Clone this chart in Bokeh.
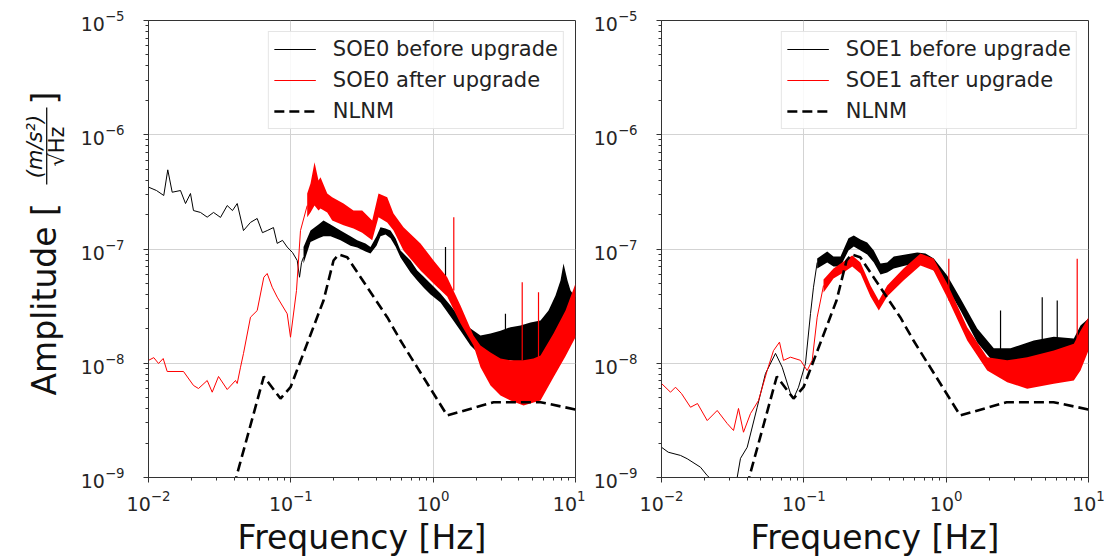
import math
from bokeh.plotting import figure
from bokeh.layouts import row
from bokeh.models import (Range1d, FixedTicker, LogTickFormatter, Legend, LegendItem)
from bokeh.core.properties import value
from bokeh.embed import file_html
from bokeh.resources import INLINE

FONT = "DejaVu Sans"

# ---------------- axis ticks ----------------
freq_ticks = [0.01, 0.1, 1, 10]
amp_ticks = [1e-9, 1e-8, 1e-7, 1e-6, 1e-5]
freq_minor = [m * 10.0 ** e for e in (-2, -1, 0) for m in range(2, 10)]
amp_minor = [m * 10.0 ** e for e in (-9, -8, -7, -6) for m in range(2, 10)]

# ---------------- NLNM ----------------
nlnm_f = [0.0377, 0.042, 0.0646, 0.0846, 0.0995, 0.1697, 0.1995, 0.2162, 0.2489,
          0.383, 0.4755, 0.5896, 1.255, 2.655, 5.678, 10.0]
nlnm_a = [6.29e-10, 1.08e-9, 7.66e-9, 4.91e-9, 6.17e-9, 3.54e-8, 7.93e-8, 8.95e-8, 8.48e-8,
          3.79e-8, 2.53e-8, 1.58e-8, 3.49e-9, 4.56e-9, 4.56e-9, 3.94e-9]

# ---------------- SOE0 before upgrade ----------------
soe0_before_f = [0.01, 0.01138, 0.0128, 0.01366, 0.01467, 0.01678, 0.0182, 0.01972, 0.0207, 0.02318,
                 0.02584, 0.02864, 0.03206, 0.03573, 0.0389, 0.042, 0.04648, 0.0521, 0.058, 0.0632,
                 0.0682, 0.0755, 0.0802, 0.0874, 0.0943, 0.1028, 0.1109, 0.1151, 0.1189, 0.1228]
soe0_before_a = [3.48e-7, 3.25e-7, 2.94e-7, 4.93e-7, 3.14e-7, 3.25e-7, 2.50e-7, 3.06e-7, 2.17e-7, 2.09e-7,
                 1.90e-7, 2.09e-7, 1.89e-7, 2.40e-7, 2.17e-7, 2.50e-7, 1.45e-7, 1.71e-7, 1.85e-7, 1.39e-7,
                 1.45e-7, 1.54e-7, 1.12e-7, 1.19e-7, 1.04e-7, 9.31e-8, 7.93e-8, 5.66e-8, 7.62e-8, 8.48e-8]
soe0_before_band_f = [0.1228, 0.1375, 0.1565, 0.1697, 0.1900, 0.2234, 0.2626, 0.2926, 0.3346, 0.3628,
                      0.4000, 0.4266, 0.4626, 0.5016, 0.5438, 0.5896, 0.6932, 0.7727, 0.8552, 0.9579,
                      1.126, 1.324, 1.556, 1.829, 2.150, 2.529, 2.972, 3.494, 4.108, 4.830,
                      5.678, 6.464, 7.236, 7.846, 8.236, 8.788, 9.226, 10.0]
soe0_before_band_hi = [1.04e-7, 1.45e-7, 1.64e-7, 1.78e-7, 1.64e-7, 1.45e-7, 1.29e-7, 1.19e-7, 1.12e-7, 1.04e-7,
                       1.29e-7, 1.55e-7, 1.51e-7, 1.45e-7, 1.24e-7, 9.70e-8, 7.93e-8, 6.48e-8, 5.75e-8, 4.99e-8,
                       4.08e-8, 3.20e-8, 2.46e-8, 2.01e-8, 1.75e-8, 1.82e-8, 1.93e-8, 2.07e-8, 2.14e-8, 2.27e-8,
                       2.37e-8, 2.89e-8, 3.92e-8, 5.30e-8, 7.47e-8, 5.30e-8, 4.33e-8, 3.79e-8]
soe0_before_band_lo = [7.47e-8, 1.15e-7, 1.24e-7, 1.29e-7, 1.29e-7, 1.19e-7, 1.07e-7, 1.03e-7, 9.51e-8, 9.13e-8,
                       1.07e-7, 1.29e-7, 1.34e-7, 1.24e-7, 1.05e-7, 8.43e-8, 6.23e-8, 5.30e-8, 4.60e-8, 4.00e-8,
                       3.40e-8, 2.57e-8, 1.93e-8, 1.43e-8, 1.17e-8, 1.06e-8, 1.06e-8, 1.06e-8, 1.015e-8, 1.015e-8,
                       1.10e-8, 1.29e-8, 1.43e-8, 1.75e-8, 1.93e-8, 1.93e-8, 1.75e-8, 1.75e-8]
soe0_before_spike_f = [1.221, 3.22]
soe0_before_spike_lo = [4.33e-8, 1.43e-8]
soe0_before_spike_hi = [1.04e-7, 2.71e-8]

# ---------------- SOE0 after upgrade ----------------
soe0_after_f = [0.01, 0.01089, 0.01176, 0.01268, 0.01353, 0.01762, 0.02071, 0.02245, 0.02585, 0.02803,
                0.03104, 0.03573, 0.04086, 0.0420, 0.04431, 0.0465, 0.05207, 0.05803, 0.06459, 0.06823,
                0.07398, 0.08022, 0.0943, 0.09947, 0.1096, 0.1169, 0.1303]
soe0_after_a = [1.06e-8, 1.12e-8, 9.95e-9, 1.10e-8, 8.47e-9, 8.47e-9, 6.39e-9, 6.01e-9, 7.06e-9, 5.58e-9,
                7.66e-9, 5.89e-9, 7.06e-9, 6.65e-9, 9.23e-9, 1.22e-8, 2.53e-8, 2.89e-8, 5.66e-8, 6.10e-8,
                4.63e-8, 3.79e-8, 2.71e-8, 1.69e-8, 4.33e-8, 1.45e-7, 2.40e-7]
soe0_after_band_f = [0.1303, 0.1375, 0.1467, 0.1565, 0.1616, 0.1802, 0.1953, 0.2345, 0.2756, 0.3172,
                     0.3730, 0.4130, 0.4755, 0.5265, 0.6189, 0.8147, 1.006, 1.255, 1.556, 1.920,
                     2.150, 2.529, 2.972, 3.494, 4.313, 5.070, 5.678, 7.006, 8.509, 10.0]
soe0_after_band_hi = [3.06e-7, 3.74e-7, 5.75e-7, 3.98e-7, 4.25e-7, 3.06e-7, 2.84e-7, 2.50e-7, 2.17e-7, 2.17e-7,
                      1.78e-7, 3.06e-7, 2.84e-7, 2.05e-7, 1.55e-7, 1.12e-7, 7.93e-8, 5.66e-8, 3.20e-8, 1.75e-8,
                      1.43e-8, 1.24e-8, 1.10e-8, 1.06e-8, 1.06e-8, 1.10e-8, 1.17e-8, 1.82e-8, 2.89e-8, 4.99e-8]
soe0_after_band_lo = [1.90e-7, 2.09e-7, 2.40e-7, 2.17e-7, 2.26e-7, 2.09e-7, 1.78e-7, 1.61e-7, 1.51e-7, 1.39e-7,
                      1.19e-7, 1.90e-7, 1.71e-7, 1.45e-7, 9.70e-8, 6.48e-8, 4.99e-8, 3.84e-8, 2.23e-8, 1.43e-8,
                      9.23e-9, 6.39e-9, 5.22e-9, 4.72e-9, 4.27e-9, 4.53e-9, 4.72e-9, 7.55e-9, 1.15e-8, 1.69e-8]
soe0_after_spike_f = [1.396, 4.223, 5.497]
soe0_after_spike_lo = [4.33e-8, 1.06e-8, 1.06e-8]
soe0_after_spike_hi = [1.90e-7, 5.12e-8, 4.19e-8]

# ---------------- SOE1 before upgrade ----------------
soe1_before_f = [0.01, 0.01115, 0.0136, 0.01515, 0.01879, 0.02095, 0.02727, 0.03404, 0.03589, 0.04001,
                 0.04703, 0.05378, 0.06324, 0.07047, 0.08059, 0.08462, 0.09175, 0.1027, 0.1114, 0.1169,
                 0.1241]
soe1_before_a = [1.84e-9, 1.665e-9, 1.56e-9, 1.46e-9, 1.23e-9, 1.04e-9, 7.69e-10, 1.006e-9, 1.47e-9, 1.84e-9,
                 4.12e-9, 8.13e-9, 1.22e-8, 9.23e-9, 5.43e-9, 4.91e-9, 6.17e-9, 9.95e-9, 2.72e-8, 4.63e-8,
                 7.62e-8]
soe1_before_band_f = [0.1241, 0.1460, 0.1616, 0.1810, 0.2060, 0.2245, 0.2501, 0.2788, 0.3101, 0.3457,
                      0.3852, 0.4286, 0.5181, 0.6260, 0.7157, 0.8187, 1.017, 1.261, 1.653, 2.161,
                      2.831, 4.128, 5.705, 7.885, 8.788, 10.0]
soe1_before_band_hi = [8.26e-8, 9.51e-8, 8.60e-8, 8.60e-8, 1.24e-7, 1.31e-7, 1.21e-7, 1.14e-7, 9.70e-8, 7.47e-8,
                       7.62e-8, 8.60e-8, 8.95e-8, 9.31e-8, 9.13e-8, 8.26e-8, 5.86e-8, 3.69e-8, 2.01e-8, 1.35e-8,
                       1.35e-8, 1.58e-8, 1.71e-8, 1.65e-8, 2.14e-8, 2.46e-8]
soe1_before_band_lo = [6.75e-8, 7.62e-8, 7.03e-8, 7.03e-8, 9.70e-8, 1.05e-7, 9.70e-8, 8.95e-8, 7.62e-8, 5.98e-8,
                       6.23e-8, 6.75e-8, 7.17e-8, 7.47e-8, 7.31e-8, 6.48e-8, 4.60e-8, 2.89e-8, 1.52e-8, 1.015e-8,
                       9.56e-9, 1.06e-8, 1.17e-8, 1.10e-8, 1.17e-8, 1.29e-8]
soe1_before_spike_f = [2.41, 4.73, 6.03]
soe1_before_spike_lo = [1.17e-8, 1.29e-8, 1.29e-8]
soe1_before_spike_hi = [2.89e-8, 3.79e-8, 3.54e-8]

# ---------------- SOE1 after upgrade ----------------
soe1_after_f = [0.01, 0.01157, 0.01254, 0.01382, 0.01599, 0.0179, 0.02095, 0.02462, 0.02894, 0.03206,
                0.03475, 0.03768, 0.0422, 0.04803, 0.05527, 0.06122, 0.06745, 0.07197, 0.08059, 0.09476,
                0.1056, 0.1145, 0.1241, 0.1375]
soe1_after_a = [6.65e-9, 5.58e-9, 6.17e-9, 5.43e-9, 4.12e-9, 4.44e-9, 3.15e-9, 3.86e-9, 2.97e-9, 2.58e-9,
                4.02e-9, 2.49e-9, 3.63e-9, 4.72e-9, 8.64e-9, 1.29e-8, 1.53e-8, 1.06e-8, 1.13e-8, 1.06e-8,
                8.64e-9, 1.06e-8, 2.53e-8, 4.79e-8]
soe1_after_band_f = [0.1375, 0.1616, 0.1900, 0.2187, 0.2501, 0.2941, 0.3363, 0.3852, 0.5016, 0.6602,
                     0.8147, 1.017, 1.406, 1.942, 2.685, 3.710, 5.705, 7.885, 8.788, 10.0]
soe1_after_band_hi = [5.41e-8, 6.75e-8, 7.77e-8, 8.77e-8, 7.62e-8, 4.79e-8, 3.54e-8, 4.79e-8, 6.75e-8, 9.13e-8,
                      8.26e-8, 4.99e-8, 2.07e-8, 1.13e-8, 1.06e-8, 1.13e-8, 1.29e-8, 1.48e-8, 1.93e-8, 2.53e-8]
soe1_after_band_lo = [4.16e-8, 5.52e-8, 6.23e-8, 7.03e-8, 6.10e-8, 3.84e-8, 2.89e-8, 3.84e-8, 5.30e-8, 7.17e-8,
                      6.48e-8, 3.76e-8, 1.58e-8, 8.64e-9, 6.83e-9, 5.98e-9, 6.61e-9, 7.06e-9, 8.64e-9, 1.29e-8]
soe1_after_spike_f = [1.044, 8.33]
soe1_after_spike_lo = [3.54e-8, 1.29e-8]
soe1_after_spike_hi = [8.21e-8, 8.21e-8]

# ---------------- y-axis title pieces ----------------
ylabel_main = "Amplitude ["
ylabel_num = "(m/s²)"
ylabel_den = "√Hz"
ylabel_close = "]"


def panel(width, border_left, border_right, names,
          b_line, b_band, b_spk, a_line, a_band, a_spk):
    p = figure(width=width, height=560, x_axis_type="log", y_axis_type="log",
               x_range=Range1d(0.01, 10), y_range=Range1d(1e-9, 1e-5),
               output_backend="svg", toolbar_location=None,
               min_border_left=border_left, min_border_right=border_right,
               min_border_top=20, min_border_bottom=83)
    p.background_fill_color = "white"
    p.border_fill_color = "white"
    p.outline_line_color = "#333333"
    p.outline_line_width = 1

    xt = FixedTicker(ticks=freq_ticks, minor_ticks=freq_minor)
    yt = FixedTicker(ticks=amp_ticks, minor_ticks=amp_minor)
    p.xaxis.ticker = xt
    p.yaxis.ticker = yt
    p.xgrid.ticker = xt
    p.ygrid.ticker = yt
    p.xaxis.formatter = LogTickFormatter()
    p.yaxis.formatter = LogTickFormatter()
    for g in (p.xgrid, p.ygrid):
        g.grid_line_color = "#d3d3d3"
        g.grid_line_width = 1
    for ax in (p.xaxis, p.yaxis):
        ax.major_label_text_font = FONT
        ax.major_label_text_font_size = "19px"
        ax.major_label_text_color = "#262626"
        ax.axis_line_color = "#333333"
        ax.major_tick_line_color = "#333333"
        ax.minor_tick_line_color = "#333333"
        ax.major_tick_out = 5
        ax.major_tick_in = 0
        ax.minor_tick_out = 3
        ax.minor_tick_in = 0
    p.xaxis.major_label_standoff = 7
    p.yaxis.major_label_standoff = 19
    p.xaxis.axis_label = "Frequency [Hz]"
    p.xaxis.axis_label_text_font = FONT
    p.xaxis.axis_label_text_font_size = "33px"
    p.xaxis.axis_label_text_font_style = "normal"
    p.xaxis.axis_label_text_color = "#111111"
    p.xaxis.axis_label_standoff = 4

    rb = p.line(b_line[0], b_line[1], line_color="black", line_width=1)
    p.varea(x=b_band[0], y1=b_band[1], y2=b_band[2], fill_color="black")
    p.segment(x0=b_spk[0], y0=b_spk[1], x1=b_spk[0], y1=b_spk[2],
              line_color="black", line_width=1.2)
    ra = p.line(a_line[0], a_line[1], line_color="red", line_width=1)
    p.varea(x=a_band[0], y1=a_band[1], y2=a_band[2], fill_color="red")
    p.segment(x0=a_spk[0], y0=a_spk[1], x1=a_spk[0], y1=a_spk[2],
              line_color="red", line_width=1.2)
    rn = p.line(nlnm_f, nlnm_a, line_color="black", line_width=2.6, line_dash="10 5")

    legend = Legend(items=[LegendItem(label=names[0], renderers=[rb]),
                           LegendItem(label=names[1], renderers=[ra]),
                           LegendItem(label="NLNM", renderers=[rn])],
                    location="top_right")
    legend.label_text_font = FONT
    legend.label_text_font_size = "21px"
    legend.label_text_color = "#222222"
    legend.glyph_width = 42
    legend.glyph_height = 24
    legend.label_height = 24
    legend.label_standoff = 17
    legend.padding = 5
    legend.spacing = 7
    legend.margin = 11
    legend.border_line_color = "#cccccc"
    legend.border_line_width = 1
    legend.background_fill_alpha = 0.85
    p.add_layout(legend)
    return p


# narrow strip at the far left that carries the rotated y-axis title.
# Its frame is aligned with the panels' frames (canvas y 20..477), so the
# ranges below make one data unit equal one canvas pixel (y counted from the bottom).
TW = 72
title_fig = figure(width=TW, height=560, x_range=Range1d(0, TW), y_range=Range1d(83, 540),
                   output_backend="svg", toolbar_location=None,
                   x_axis_location=None, y_axis_location=None,
                   min_border=0, min_border_left=0, min_border_right=0,
                   min_border_top=20, min_border_bottom=83)
title_fig.outline_line_color = None
title_fig.grid.visible = False
title_fig.background_fill_color = "white"
title_fig.border_fill_color = "white"
rot = math.pi / 2
title_fig.text(x=[44], y=[560 - 395], text=[ylabel_main], angle=rot,
               text_font=value(FONT), text_font_size="33px", text_color="#111111",
               text_align="left", text_baseline="alphabetic")
title_fig.text(x=[34], y=[560 - 146], text=[ylabel_num], angle=rot,
               text_font=value(FONT), text_font_size="21px", text_color="#111111",
               text_font_style="italic", text_align="center", text_baseline="alphabetic")
title_fig.text(x=[56], y=[560 - 146], text=[ylabel_den], angle=rot,
               text_font=value(FONT), text_font_size="21px", text_color="#111111",
               text_align="center", text_baseline="alphabetic")
title_fig.text(x=[44], y=[560 - 104], text=[ylabel_close], angle=rot,
               text_font=value(FONT), text_font_size="33px", text_color="#111111",
               text_align="left", text_baseline="alphabetic")
title_fig.segment(x0=[46.2], y0=[560 - 184], x1=[46.2], y1=[560 - 107],
                  line_color="#111111", line_width=1.3)

p1 = panel(585 - TW, 148 - TW, 10, ("SOE0 before upgrade", "SOE0 after upgrade"),
           (soe0_before_f, soe0_before_a),
           (soe0_before_band_f, soe0_before_band_lo, soe0_before_band_hi),
           (soe0_before_spike_f, soe0_before_spike_lo, soe0_before_spike_hi),
           (soe0_after_f, soe0_after_a),
           (soe0_after_band_f, soe0_after_band_lo, soe0_after_band_hi),
           (soe0_after_spike_f, soe0_after_spike_lo, soe0_after_spike_hi))

p2 = panel(523, 76, 20, ("SOE1 before upgrade", "SOE1 after upgrade"),
           (soe1_before_f, soe1_before_a),
           (soe1_before_band_f, soe1_before_band_lo, soe1_before_band_hi),
           (soe1_before_spike_f, soe1_before_spike_lo, soe1_before_spike_hi),
           (soe1_after_f, soe1_after_a),
           (soe1_after_band_f, soe1_after_band_lo, soe1_after_band_hi),
           (soe1_after_spike_f, soe1_after_spike_lo, soe1_after_spike_hi))

layout = row(title_fig, p1, p2)
open("out.html", "w").write(file_html(layout, INLINE, title="SOE spectra"))
